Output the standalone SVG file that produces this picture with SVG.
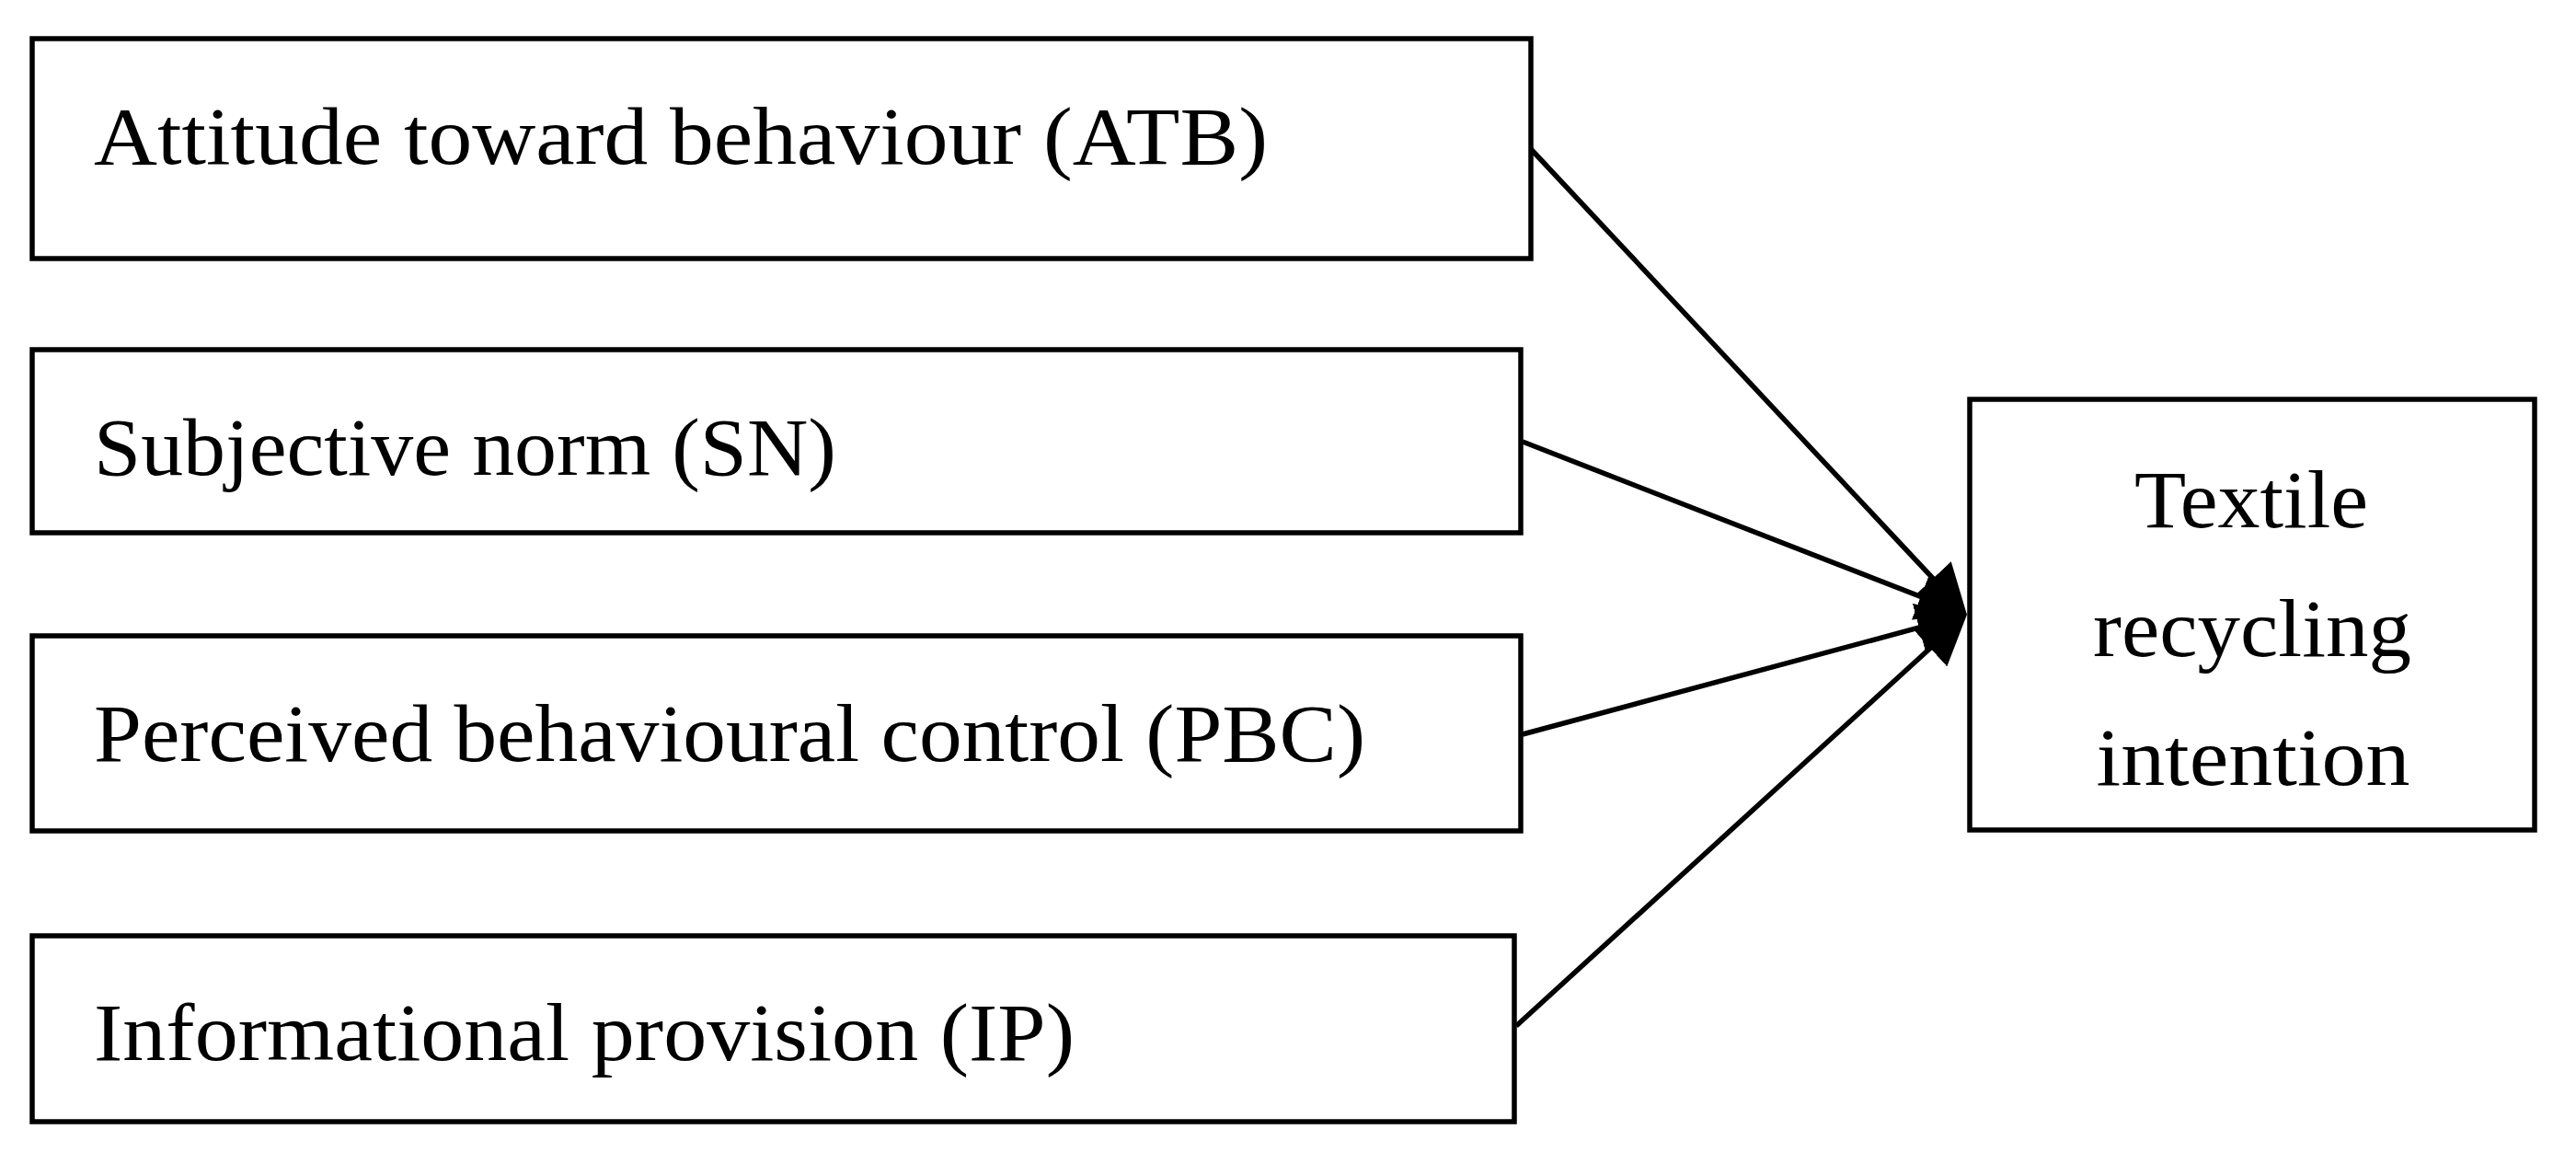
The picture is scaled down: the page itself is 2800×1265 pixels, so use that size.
<svg xmlns="http://www.w3.org/2000/svg" width="2800" height="1265" viewBox="0 0 2800 1265">
<style>
.box{fill:#fff;stroke:#000;stroke-width:5.5}
.lbl{font-family:"Liberation Serif","DejaVu Serif",serif;font-size:89px;fill:#000}
.mid{text-anchor:middle}
.edge{fill:none;stroke:#000;stroke-width:5.5}
</style>
<defs>
<marker id="arr" markerUnits="userSpaceOnUse" viewBox="0 0 54 54" markerWidth="54" markerHeight="54" refX="34" refY="27" orient="auto">
<path d="M0,0 L54,27 L0,54 Z" fill="#000"/>
</marker>
</defs>
<rect width="2800" height="1265" fill="#fff"/>
<g id="atb">
<rect class="box" x="35" y="42" width="1629" height="239"/>
<text class="lbl" x="102" y="178" textLength="1276" lengthAdjust="spacingAndGlyphs">Attitude toward behaviour (ATB)</text>
</g>
<g id="sn">
<rect class="box" x="35" y="380" width="1618" height="199"/>
<text class="lbl" x="102" y="516" textLength="807" lengthAdjust="spacingAndGlyphs">Subjective norm (SN)</text>
</g>
<g id="pbc">
<rect class="box" x="35" y="691" width="1618" height="212"/>
<text class="lbl" x="102" y="827" textLength="1382" lengthAdjust="spacingAndGlyphs">Perceived behavioural control (PBC)</text>
</g>
<g id="ip">
<rect class="box" x="35" y="1017" width="1611" height="202"/>
<text class="lbl" x="102" y="1152" textLength="1066" lengthAdjust="spacingAndGlyphs">Informational provision (IP)</text>
</g>
<g id="tri">
<rect class="box" x="2141" y="434" width="614" height="468"/>
<text class="lbl mid" x="2447" y="573" textLength="254" lengthAdjust="spacingAndGlyphs">Textile</text>
<text class="lbl mid" x="2448" y="713" textLength="346" lengthAdjust="spacingAndGlyphs">recycling</text>
<text class="lbl mid" x="2449" y="853" textLength="341" lengthAdjust="spacingAndGlyphs">intention</text>
</g>
<g id="connectors">
<path class="edge" d="M1664,162 L2124.3,653.4" marker-end="url(#arr)"/>
<path class="edge" d="M1655,480 L2119.4,660.7" marker-end="url(#arr)"/>
<path class="edge" d="M1655,798 L2118.7,673.2" marker-end="url(#arr)"/>
<path class="edge" d="M1648,1115 L2123.2,681.5" marker-end="url(#arr)"/>
</g>
</svg>
